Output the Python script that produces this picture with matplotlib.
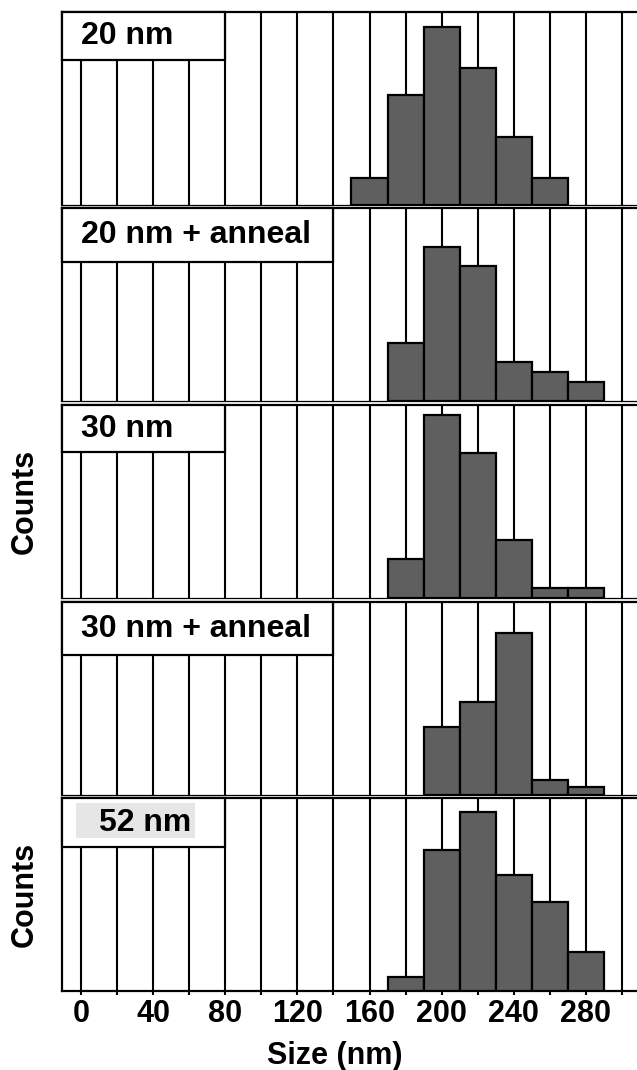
"""
Size histograms for five film thicknesses, stacked panels.
X axis: particle size (nm), Y axis: counts (no scale shown).
"""

import numpy as np
import matplotlib.pyplot as plt
from matplotlib.patches import Rectangle
from matplotlib.transforms import blended_transform_factory

plt.rcParams["font.family"] = ["Liberation Sans", "DejaVu Sans"]
plt.rcParams["font.weight"] = "bold"

# ── data (relative counts) ────────────────────────────────────────────────────

labels = ["20 nm", "20 nm + anneal", "30 nm", "30 nm + anneal", "52 nm"]

centers_20      = [160, 180, 200, 220, 240, 260]
counts_20       = [14, 57, 92, 71, 35, 14]
centers_20a     = [180, 200, 220, 240, 260, 280]
counts_20a      = [30, 80, 70, 20, 15, 10]
centers_30      = [180, 200, 220, 240, 260, 280]
counts_30       = [20, 95, 75, 30, 5, 5]
centers_30a     = [200, 220, 240, 260, 280]
counts_30a      = [35, 48, 84, 8, 4]
centers_52      = [180, 200, 220, 240, 260, 280]
counts_52       = [7, 73, 93, 60, 46, 20]

centers = [centers_20, centers_20a, centers_30, centers_30a, centers_52]
counts  = [counts_20, counts_20a, counts_30, counts_30a, counts_52]

BIN_W   = 20
XLIM    = (-10.5, 308.3)
tick_major = np.arange(0, 281, 40)
tick_minor = np.arange(0, 301, 20)

# label box: right edge (nm) and height (fraction of panel)
box_right  = [80, 140, 80, 140, 80]
box_height = [0.25, 0.28, 0.245, 0.275, 0.255]

# ── layout (pixels) ───────────────────────────────────────────────────────────

W, H = 637, 1070
panel_tops = [12, 208, 405, 602, 798]
PANEL_H = 193
LEFT = 62

fig = plt.figure(figsize=(W / 100, H / 100), dpi=100)

for i in range(5):
    top = panel_tops[i]
    ax = fig.add_axes([LEFT / W, 1 - (top + PANEL_H) / H,
                       (W - LEFT) / W, PANEL_H / H])

    ax.bar(centers[i], counts[i], width=BIN_W, color="#5f5f5f",
           edgecolor="black", linewidth=1.6, zorder=3)

    ax.set_xlim(*XLIM)
    ax.set_ylim(0, 100)
    ax.set_xticks(tick_major)
    ax.set_xticks(tick_minor, minor=True)
    ax.set_yticks([])
    ax.set_axisbelow(True)
    ax.grid(True, axis="x", which="both", color="black", linewidth=1.5)

    ax.spines["right"].set_visible(False)
    ax.spines["top"].set_linewidth(1.6)
    ax.spines["left"].set_linewidth(1.6)
    ax.spines["bottom"].set_linewidth(1.6 if i == 4 else 0.9)

    # white label box covering the grid in the top-left corner
    trans = blended_transform_factory(ax.transData, ax.transAxes)
    bh = box_height[i]
    ax.add_patch(Rectangle((XLIM[0], 1 - bh), box_right[i] - XLIM[0], bh,
                           transform=trans, facecolor="white",
                           edgecolor="black", linewidth=1.6, zorder=4,
                           clip_on=False))
    if i == 4:
        ax.add_patch(Rectangle((-2.9, 0.793), 66, 0.181, transform=trans,
                               facecolor="#e6e6e6", edgecolor="none",
                               zorder=5))
        tx = 9.8
    else:
        tx = 0
    ax.text(tx, 1 - bh / 2, labels[i], transform=trans, ha="left",
            va="center", fontsize=23, fontweight="bold", zorder=6)

    if i < 4:
        ax.tick_params(axis="x", which="both", bottom=False, labelbottom=False)
    else:
        ax.tick_params(axis="x", which="both", direction="out", length=3,
                       width=1.5, pad=3, labelsize=22)
        for lab in ax.get_xticklabels():
            lab.set_fontweight("bold")

# ── shared labels ─────────────────────────────────────────────────────────────

for i in (2, 4):
    yc = 1 - (panel_tops[i] + PANEL_H / 2) / H
    fig.text(25 / W, yc, "Counts", rotation=90, ha="center", va="center",
             fontsize=22, fontweight="bold")

fig.text(335 / W, 1 - 1056 / H, "Size (nm)", ha="center", va="center",
         fontsize=22, fontweight="bold")

fig.savefig("out.png", dpi=100)
